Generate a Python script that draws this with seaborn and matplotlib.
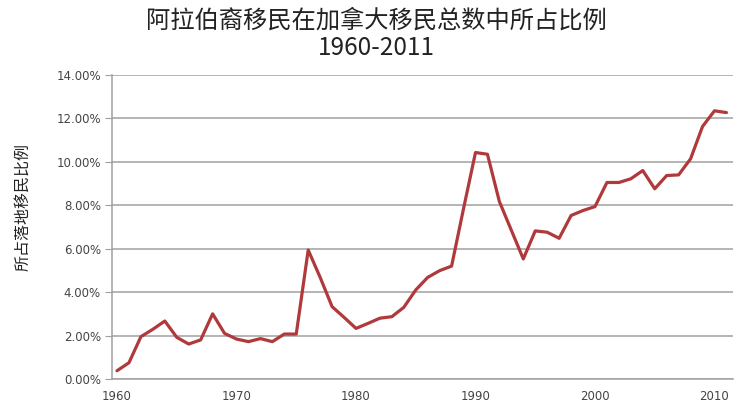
import numpy as np
import pandas as pd
import seaborn as sns
import matplotlib.pyplot as plt
from matplotlib.ticker import FuncFormatter

years = list(range(1960, 2012))
share = [0.38, 0.75, 1.95, 2.29, 2.67, 1.92, 1.61, 1.80, 3.00, 2.10,
         1.84, 1.72, 1.86, 1.72, 2.07, 2.07, 5.94, 4.68, 3.33, 2.84,
         2.33, 2.56, 2.80, 2.87, 3.30, 4.10, 4.68, 4.99, 5.20, 7.85,
         10.43, 10.35, 8.17, 6.85, 5.53, 6.82, 6.76, 6.48, 7.53, 7.76,
         7.94, 9.05, 9.05, 9.22, 9.60, 8.76, 9.37, 9.40, 10.14, 11.63,
         12.35, 12.27]
df = pd.DataFrame({"year": years, "share": share})

sns.set_style("white")
plt.rcParams['font.family'] = ['Noto Sans CJK SC', 'DejaVu Sans']

fig = plt.figure(figsize=(7.4, 4.17), dpi=100)
ax = fig.add_axes([112/740, 1-379/417, (733-112)/740, (379-75)/417])

sns.lineplot(data=df, x="year", y="share", color="#b0393b", linewidth=2.3, ax=ax)

ax.set_xlim(1959.58, 2011.55)
ax.set_ylim(0, 14)
ax.set_yticks(np.arange(0, 15, 2))
ax.set_xticks([1960, 1970, 1980, 1990, 2000, 2010])
ax.yaxis.set_major_formatter(FuncFormatter(lambda v, p: f"{v:.2f}%"))
ax.grid(axis="y", color="#a0a0a0", linewidth=1.1)
ax.set_axisbelow(True)
for s in ["top", "right"]:
    ax.spines[s].set_visible(False)
ax.spines["left"].set_color("#a0a0a0")
ax.spines["bottom"].set_color("#a0a0a0")
ax.spines["left"].set_linewidth(1.1)
ax.spines["bottom"].set_linewidth(1.1)
ax.tick_params(axis="y", length=5, color="#a0a0a0", labelsize=8.5,
               labelcolor="#444444", pad=3, left=True)
ax.tick_params(axis="x", length=0, labelsize=8.5, labelcolor="#444444", pad=8)
for lab in ax.get_xticklabels() + ax.get_yticklabels():
    lab.set_family("DejaVu Sans")

ax.set_xlabel("")
ax.set_ylabel("所占落地移民比例", fontsize=11.5, color="#222222")
ax.yaxis.set_label_coords(-0.13, 0.566)
fig.text(0.508, 0.982, "阿拉伯裔移民在加拿大移民总数中所占比例\n1960-2011",
         ha="center", va="top", fontsize=17.5, color="#222222", linespacing=1.05)

fig.savefig("out.png", dpi=100)
